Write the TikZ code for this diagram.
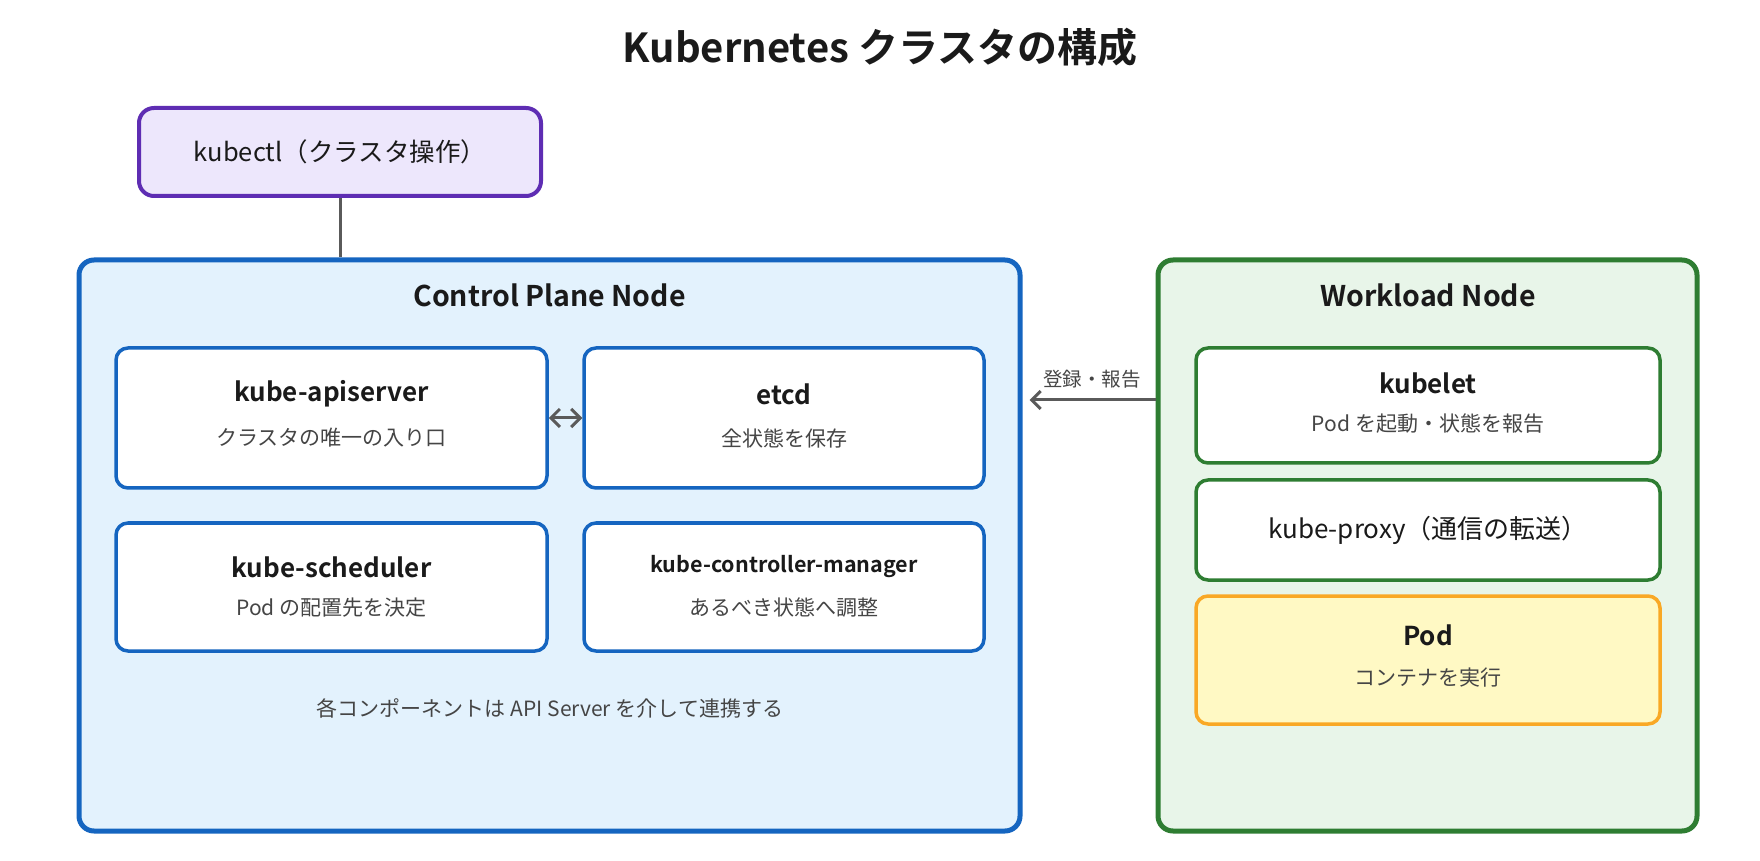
\documentclass[tikz,border=0pt]{standalone}
\usepackage{fontspec}
\setmainfont{Noto Sans CJK JP}[BoldFont={* Bold}]
\usepackage{tikz}
\usetikzlibrary{positioning,arrows.meta}

\definecolor{cpblue}{HTML}{1565C0}
\definecolor{cpfill}{HTML}{E3F2FD}
\definecolor{wlgreen}{HTML}{2E7D32}
\definecolor{wlfill}{HTML}{E8F5E9}
\definecolor{ctlpurple}{HTML}{5E2DB3}
\definecolor{ctlfill}{HTML}{EDE7FC}
\definecolor{podorange}{HTML}{F9A825}
\definecolor{podfill}{HTML}{FFF9C4}
\definecolor{linkgray}{HTML}{5A5A5A}
\definecolor{inktext}{HTML}{1A1A1A}
\definecolor{subtext}{HTML}{454545}

\begin{document}
\begin{tikzpicture}[x=1pt,y=1pt,
    outerbox/.style={draw, rounded corners=15pt, line width=5pt, inner sep=0pt},
    innerbox/.style={draw, fill=white, rounded corners=12pt, line width=3.5pt, inner sep=0pt},
    boxtitle/.style={text=inktext, font=\fontsize{26}{30}\selectfont\bfseries},
    boxsub/.style={text=subtext, font=\fontsize{21}{25}\selectfont},
    flow/.style={draw=linkgray, line width=3pt, {Straight Barb[length=9pt,width=18pt]}-}
  ]
  \useasboundingbox (0,0) rectangle (1760,860);
  % title
  \node[text=inktext, font=\fontsize{40}{44}\selectfont\bfseries] (title) at (880,813) {Kubernetes クラスタの構成};
  % kubectl
  \node[outerbox, line width=4pt, draw=ctlpurple, fill=ctlfill, minimum width=402pt, minimum height=88pt] (kubectl) at (340,708) {};
  \node[text=inktext, font=\fontsize{25.5}{29}\selectfont] (kubectltext) at (kubectl) {kubectl（クラスタ操作）};
  % control plane
  \node[outerbox, draw=cpblue, fill=cpfill, minimum width=941pt, minimum height=571pt] (cp) at (549.5,314.5) {};
  \node[boxtitle, font=\fontsize{28.5}{32}\selectfont\bfseries] (cptitle) at (549.5,565) {Control Plane Node};
  \node[innerbox, draw=cpblue, minimum width=431pt, minimum height=140pt] (api) at (331.5,442) {};
  \node[innerbox, draw=cpblue, minimum width=400pt, minimum height=140pt] (etcd) at (784,442) {};
  \node[innerbox, draw=cpblue, minimum width=431pt, minimum height=128pt] (sched) at (331.5,273) {};
  \node[innerbox, draw=cpblue, minimum width=400pt, minimum height=128pt] (ctrl) at (784,273) {};
  \node[boxtitle] (apititle) at ([yshift=24pt]api.center) {kube-apiserver};
  \node[boxsub] (apisub) at ([yshift=-20pt]api.center) {クラスタの唯一の入り口};
  \node[boxtitle] (etcdtitle) at ([yshift=24pt]etcd.center) {etcd};
  \node[boxsub] (etcdsub) at ([yshift=-20pt]etcd.center) {全状態を保存};
  \node[boxtitle] (schedtitle) at ([yshift=20pt]sched.center) {kube-scheduler};
  \node[boxsub] (schedsub) at ([yshift=-21pt]sched.center) {Pod の配置先を決定};
  \node[boxtitle, font=\fontsize{21.5}{25}\selectfont\bfseries] (ctrltitle) at ([yshift=20pt]ctrl.center) {kube-controller-manager};
  \node[boxsub] (ctrlsub) at ([yshift=-21pt]ctrl.center) {あるべき状態へ調整};
  \node[boxsub] (cpnote) at (550,152) {各コンポーネントは API Server を介して連携する};
  % workload
  \node[outerbox, draw=wlgreen, fill=wlfill, minimum width=539pt, minimum height=571pt] (wl) at (1427.5,314.5) {};
  \node[boxtitle, font=\fontsize{28.5}{32}\selectfont\bfseries] (wltitle) at (1428,565) {Workload Node};
  \node[innerbox, draw=wlgreen, minimum width=464pt, minimum height=115pt] (kubelet) at (1428,454.5) {};
  \node[innerbox, draw=wlgreen, minimum width=464pt, minimum height=100pt] (proxy) at (1428,330) {};
  \node[innerbox, draw=podorange, fill=podfill, minimum width=464pt, minimum height=128pt] (pod) at (1428,200) {};
  \node[boxtitle] (kubelettitle) at ([yshift=22pt]kubelet.center) {kubelet};
  \node[boxsub] (kubeletsub) at ([yshift=-18pt]kubelet.center) {Pod を起動・状態を報告};
  \node[text=inktext, font=\fontsize{26}{30}\selectfont] (proxytext) at (proxy) {kube-proxy（通信の転送）};
  \node[boxtitle] (podtitle) at ([yshift=25pt]pod.center) {Pod};
  \node[boxsub] (podsub) at ([yshift=-18pt]pod.center) {コンテナを実行};
  % connectors
  \draw[draw=linkgray, line width=3pt] (kubectl.south) -- (kubectl.south |- cp.north);
  \draw[flow, {Straight Barb[length=9pt,width=18pt]}-{Straight Barb[length=9pt,width=18pt]}] (api) -- (etcd);
  \draw[flow] ([yshift=145.5pt,xshift=7pt]cp.east) -- ([yshift=145.5pt]wl.west);
  \node[text=subtext, font=\fontsize{19.5}{23}\selectfont] (reglabel) at (1092,481) {登録・報告};
\end{tikzpicture}
\end{document}
